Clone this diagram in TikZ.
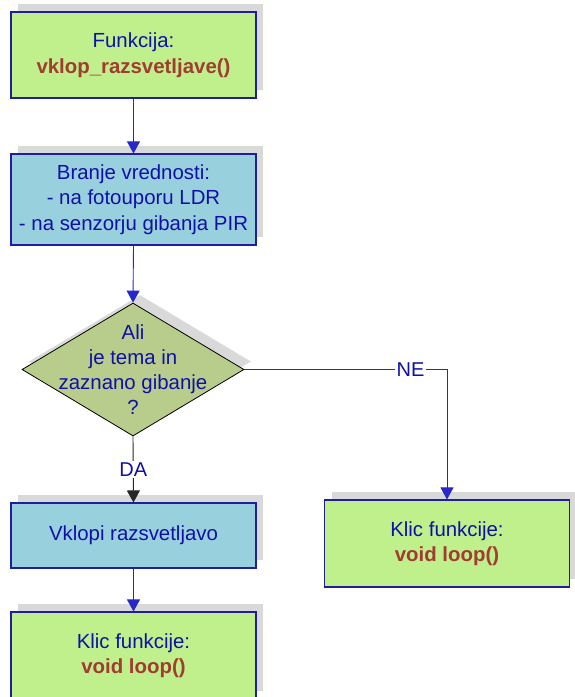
\documentclass[tikz,border=0pt]{standalone}
\usepackage{fontspec}
\setmainfont{Liberation Sans}
\usetikzlibrary{shapes.geometric,arrows.meta,shadows}

\definecolor{fillgreen}{RGB}{192,240,140}
\definecolor{fillblue}{RGB}{153,208,222}
\definecolor{fillolive}{RGB}{184,204,140}
\definecolor{shadowgray}{RGB}{217,217,217}
\definecolor{boxborder}{RGB}{30,30,160}
\definecolor{textblue}{RGB}{16,16,168}
\definecolor{textred}{RGB}{160,60,48}
\definecolor{flowblue}{RGB}{40,40,200}

\tikzset{
  x=1pt, y=-1pt,
  boxshadow/.style={general shadow={shadow xshift=7pt, shadow yshift=8pt, fill=shadowgray}},
  flowbox/.style={rectangle, draw=boxborder, line width=1.1pt, inner sep=0pt,
    minimum width=245pt, align=center, text=textblue, boxshadow,
    font=\fontsize{20.4}{25.5}\selectfont},
  greenbox/.style={flowbox, fill=fillgreen},
  bluebox/.style={flowbox, fill=fillblue},
  decision/.style={diamond, draw=black, line width=0.8pt, inner sep=0pt,
    fill=fillolive, boxshadow, minimum width=222pt, minimum height=133pt},
  plaintext/.style={align=center, text=textblue, inner sep=1pt,
    font=\fontsize{20.4}{25.2}\selectfont},
  flowarrow/.style={draw=flowblue, line width=0.9pt,
    -{Triangle[length=12pt, width=13pt]}},
  edgelabel/.style={fill=white, text=textblue, inner sep=1.5pt,
    font=\fontsize{20}{24}\selectfont},
}
\newcommand{\fname}[1]{{\bfseries\color{textred}#1}}

\begin{document}
\begin{tikzpicture}
  \useasboundingbox (0,0) rectangle (575,697);
  \clip (0,0) rectangle (575,697);

  % process boxes
  \node[greenbox, minimum height=86pt] (start) at (133.5,55)
    {Funkcija:\\ \fname{vklop\_razsvetljave()}};
  \node[bluebox, minimum height=91pt] (read) at (133.5,199.5)
    {Branje vrednosti:\\- na fotouporu LDR\\- na senzorju gibanja PIR};

  % decision
  \node[decision] (dec) at (133,369.5) {};
  \node[plaintext] (dectext) at (dec.center)
    {Ali\\je tema in\\zaznano gibanje\\?};

  \node[bluebox, minimum height=65pt] (light) at (133.5,535.5)
    {Vklopi razsvetljavo};
  \node[greenbox, minimum height=87pt] (loopA) at (447,543.5)
    {Klic funkcije:\\ \fname{void loop()}};
  \node[greenbox, minimum height=87pt] (loopB) at (133.5,655.5)
    {Klic funkcije:\\ \fname{void loop()}};

  % connectors
  \draw[flowarrow] (start.south) -- (read.north);
  \draw[flowarrow] (read.south) -- (dec.north);
  \draw[draw=black!85, line width=0.9pt, -{Triangle[length=12pt, width=13pt]}]
    (dec.south) -- node[edgelabel, pos=0.5] (da) {DA} (light.north);
  \draw[flowarrow] (dec.east) -- node[edgelabel, pos=0.82] (ne) {NE} (loopA.north |- dec.east)
    -- (loopA.north);
  \draw[flowarrow] (light.south) -- (loopB.north);
\end{tikzpicture}
\end{document}
